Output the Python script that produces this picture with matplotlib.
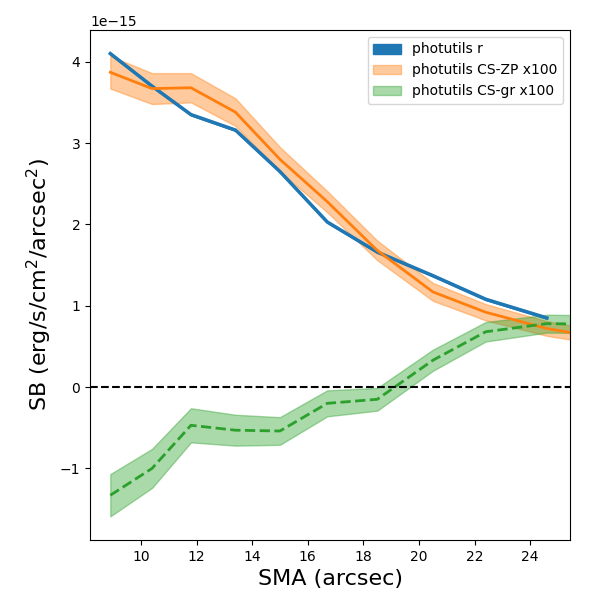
import matplotlib
matplotlib.use("Agg")
import matplotlib.pyplot as plt
import numpy as np

sma = np.array([8.9, 10.4, 11.8, 13.4, 15.0, 16.7, 18.5, 20.5, 22.4, 24.6, 27.0])
sb_r = np.array([4.1, 3.7, 3.35, 3.16, 2.65, 2.03, 1.66, 1.37, 1.08, 0.85])
err_r = np.array([0.01] * 10)
sb_zp = np.array([3.87, 3.67, 3.68, 3.38, 2.80, 2.28, 1.68, 1.17, 0.92, 0.72, 0.58])
err_zp = np.array([0.2, 0.19, 0.18, 0.17, 0.15, 0.13, 0.12, 0.11, 0.1, 0.09, 0.08])
sb_gr = np.array([-1.33, -1.0, -0.47, -0.53, -0.54, -0.2, -0.15, 0.33, 0.68, 0.78, 0.77])
err_gr = np.array([0.26, 0.24, 0.21, 0.19, 0.17, 0.16, 0.14, 0.13, 0.12, 0.11, 0.11])

scale = 1e-15
fig, ax = plt.subplots(figsize=(6, 6), dpi=100)
n = len(sb_r)
ax.fill_between(sma[:n], (sb_r - err_r) * scale, (sb_r + err_r) * scale, color='C0', label='photutils r')
ax.plot(sma[:n], sb_r * scale, color='C0', lw=2.5)
ax.fill_between(sma, (sb_zp - err_zp) * scale, (sb_zp + err_zp) * scale, color='C1', alpha=0.4, label='photutils CS-ZP x100')
ax.plot(sma, sb_zp * scale, color='C1', lw=2)
ax.fill_between(sma, (sb_gr - err_gr) * scale, (sb_gr + err_gr) * scale, color='C2', alpha=0.4, label='photutils CS-gr x100')
ax.plot(sma, sb_gr * scale, color='C2', lw=2, ls='--')
ax.axhline(0, color='black', ls='--')
ax.set_xlim(8.17, 25.43)
ax.set_ylim(-1.88e-15, 4.39e-15)
ax.set_xlabel('SMA (arcsec)', fontsize=16)
ax.set_ylabel('SB (erg/s/cm$^2$/arcsec$^2$)', fontsize=16)
ax.legend(loc='upper right')
plt.subplots_adjust(left=0.15, right=0.95, top=0.95, bottom=0.1)
plt.savefig('out.png')
